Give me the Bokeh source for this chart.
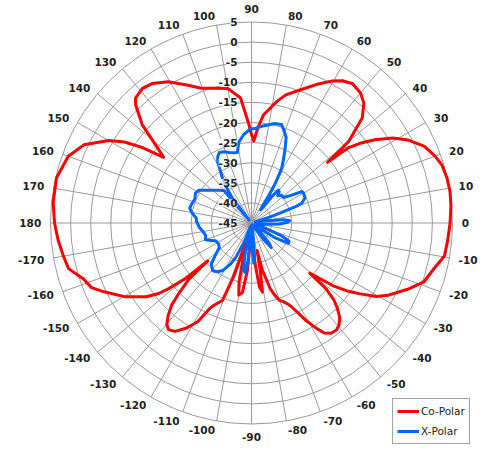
import numpy as np
from bokeh.plotting import figure
from bokeh.models import ColumnDataSource, Label, Legend, LegendItem
from bokeh.core.properties import value
from bokeh.embed import file_html
from bokeh.resources import INLINE

# ---------------- data ----------------
radial_ticks = [5, 0, -5, -10, -15, -20, -25, -30, -35, -40, -45]
angle_ticks = [0, 10, 20, 30, 40, 50, 60, 70, 80, 90, 100, 110, 120, 130, 140, 150,
               160, 170, 180, -170, -160, -150, -140, -130, -120, -110, -100, -90,
               -80, -70, -60, -50, -40, -30, -20, -10]

co_angle = [-180, -175, -170, -166, -161.7, -158, -155, -149.6, -145, -142.8, -141.5, -140,
            -139.2, -138, -136, -134.2, -132, -129.8, -127.9, -125.2, -121.7, -118.5, -116,
            -114.3, -110.5, -108.4, -106, -104, -102, -100, -97.5, -95, -92, -90, -88, -85,
            -83, -81, -79.5, -78.5, -77, -74.1, -72, -70, -68, -66, -64.4, -61, -58.4, -56.5,
            -54.2, -51.5, -49.3, -47, -44.8, -43, -41.4, -40.7, -37.6, -35.5, -33.3, -30.5,
            -27.8, -23, -18.9, -14, -9.7, -5, 0, 5, 9, 13, 17, 20, 24, 28, 31, 34, 36, 37.8,
            38.6, 39.5, 40.1, 43.5, 46.9, 50, 54, 57.4, 60.3, 65, 70, 75, 78.2, 83.6, 86, 88.4,
            90, 91.5, 95, 100, 105, 110.5, 114.7, 120.5, 125.5, 129, 132.9, 134.4, 138, 140.7,
            143.2, 145.4, 147.5, 150, 155, 160, 167, 174]
co_db = [4.0, 3.3, 2.5, 1.9, -0.9, -2.1, -4.5, -8.7, -13.0, -16.0, -19.0, -23.4,
         -30.6, -24.0, -20.0, -16.5, -14.0, -12.1, -11.4, -12.0, -14.3, -17.1, -21.5,
         -22.6, -24.5, -31.2, -40.0, -38.0, -30.0, -26.8, -27.5, -33.0, -42.0, -44.0, -42.0, -35.0,
         -29.0, -27.6, -33.0, -38.0, -33.0, -28.0, -26.0, -24.5, -23.9, -23.0, -21.9, -17.5, -14.3, -12.2,
         -11.2, -11.0, -11.6, -12.8, -14.9, -17.0, -20.3, -25.9, -19.5, -16.0, -13.0, -9.0,
         -6.5, -2.8, 0.3, 1.8, 3.7, 4.0, 4.4, 4.8, 5.0, 4.9, 4.5, 3.6, 2.0, -1.0, -4.0, -8.0, -11.0, -14.4,
         -20.8, -16.0, -13.3, -7.0, -4.1, -2.8, -2.2, -3.0, -4.3, -7.0, -9.8, -12.0, -14.1, -17.9, -21.0, -24.6,
         -23.0, -20.5, -13.8, -11.0, -10.3, -9.2, -7.3, -4.2, -2.4, -1.9, -2.6, -3.8, -8.4, -14.0,
         -17.7, -11.9, -7.5, -4.0, 1.0, 3.5, 4.8, 4.6]

xp_angle = [-180, -175, -170.4, -165, -160, -153, -147, -142.6, -138, -134.5, -129.1, -125,
            -121.2, -117, -114.6, -111, -107, -102, -99.5, -97.5, -95.5, -93, -90, -88, -86.5,
            -85, -83, -78, -65, -56, -53, -51, -48.5, -44, -37, -32, -29, -26, -23, -18, -12,
            -6, -2, 1, 3.5, 6, 9, 14, 18.5, 20.5, 21.5, 25, 29.8, 32, 35, 38.5, 42.7, 46, 48.5,
            50.7, 52.5, 54.5, 56, 57.5, 59, 61, 63, 65.6, 68, 70.3, 73, 77, 80, 84, 88, 91, 95,
            99, 101.3, 104, 107.6, 111, 114.5, 117, 119, 121, 123, 125, 127.7, 129, 130.5, 130.2,
            135, 140, 145, 148, 152, 157, 162, 166.5, 170, 175, 178]
xp_db = [-31.5, -32.0, -32.7, -33.2, -32.8, -35.1, -35.3, -34.9, -32.8, -30.7, -29.7, -30.2,
         -31.2, -33.5, -35.6, -40.0, -44.0, -37.0, -33.0, -32.6, -35.0, -43.0, -44.0, -38.0, -35.0,
         -36.0, -42.0, -44.5, -44.5, -43.0, -39.0, -37.2, -38.5, -43.0, -44.0, -38.0, -34.5, -34.6, -37.0, -43.0, -44.0,
         -42.0, -38.0, -36.0, -35.5, -37.0, -42.0, -44.0, -39.0, -33.0, -31.6, -30.3, -30.1, -30.2, -33.0, -34.8, -34.8, -35.6, -34.6,
         -34.4, -36.5, -40.5, -41.0, -37.0, -33.5, -29.6, -27.6, -24.8, -22.0, -20.8, -19.4, -19.6, -20.2, -20.8, -21.5, -21.7, -22.9,
         -24.7, -27.1, -27.0, -26.6, -26.0, -25.7, -26.5, -27.7, -30.0, -31.8, -34.0, -37.3, -44.0, -39.0, -34.4,
         -33.5, -32.3, -30.8, -29.6, -29.2, -29.7, -29.4, -29.2, -29.9, -31.2, -31.3]

# ---------------- geometry helpers ----------------
R_MIN, R_MAX = -45.0, 5.0
R_OUT = 201.0        # pixel radius of the outer ring
LABEL_R = 210.3      # anchor radius of the angle labels
GRID = "#999999"
FONT = "DejaVu Sans"


def to_r(db):
    d = np.clip(np.asarray(db, dtype=float), R_MIN, R_MAX)
    return (d - R_MIN) / (R_MAX - R_MIN) * R_OUT


def to_xy(ang, db):
    t = np.radians(np.asarray(ang, dtype=float))
    r = to_r(db)
    x = r * np.cos(t)
    y = r * np.sin(t)
    return np.append(x, x[0]), np.append(y, y[0])


p = figure(width=480, height=445, x_range=(-251, 229), y_range=(-222.5, 222.5),
           x_axis_type=None, y_axis_type=None, toolbar_location=None,
           output_backend="svg", min_border=0, outline_line_color=None,
           background_fill_color="white", border_fill_color="white")

# rings
ring_db = [t for t in radial_ticks if t > R_MIN]
ring_src = ColumnDataSource(dict(x=[0.0] * len(ring_db), y=[0.0] * len(ring_db), r=to_r(ring_db)))
p.circle(x="x", y="y", radius="r", source=ring_src, fill_color=None,
         line_color=GRID, line_width=1)

# spokes
spk = np.radians(np.arange(0, 360, 10))
spoke_src = ColumnDataSource(dict(x0=np.zeros(len(spk)), y0=np.zeros(len(spk)),
                                  x1=R_OUT * np.cos(spk), y1=R_OUT * np.sin(spk)))
p.segment(x0="x0", y0="y0", x1="x1", y1="y1", source=spoke_src, line_color=GRID, line_width=1)

# curves
cx, cy = to_xy(co_angle, co_db)
xx, xy = to_xy(xp_angle, xp_db)
red = p.line(cx, cy, line_color="#ff0000", line_width=3, line_join="round")
blue = p.line(xx, xy, line_color="#0066ff", line_width=3, line_join="round")

# angle labels
groups = {"right": dict(x=[], y=[], t=[]), "left": dict(x=[], y=[], t=[]),
          "top": dict(x=[], y=[], t=[]), "bottom": dict(x=[], y=[], t=[])}
for a in angle_ticks:
    th = np.radians(a)
    x, y = LABEL_R * np.cos(th), LABEL_R * np.sin(th)
    if a == 90:
        g = "top"
    elif a == -90:
        g = "bottom"
    elif np.cos(th) > 0:
        g = "right"
    else:
        g = "left"
    groups[g]["x"].append(x)
    groups[g]["y"].append(y)
    groups[g]["t"].append(str(a))

align = {"right": ("left", "middle"), "left": ("right", "middle"),
         "top": ("center", "bottom"), "bottom": ("center", "top")}
for g, d in groups.items():
    ta, tb = align[g]
    p.text(x="x", y="y", text="t", source=ColumnDataSource(d),
           text_align=ta, text_baseline=tb, text_font=value(FONT),
           text_font_size=value("10.5px"), text_font_style="bold", text_color="#222222")

# radial labels
for t in radial_ticks:
    p.add_layout(Label(x=-14, y=float(to_r(t)), text=str(t), text_align="right",
                       text_baseline="middle", text_font=FONT, text_font_size="10.5px",
                       text_font_style="bold", text_color="#222222",
                       background_fill_color="white", background_fill_alpha=0.7))

legend = Legend(items=[LegendItem(label="Co-Polar", renderers=[red]),
                       LegendItem(label="X-Polar", renderers=[blue])],
                location=(392, 1), padding=4, spacing=4, margin=0,
                glyph_width=22, glyph_height=16, label_height=16, label_standoff=2,
                label_text_font=FONT, label_text_font_size="10.5px", label_text_color="#222222",
                border_line_color="#444444", border_line_width=1,
                background_fill_color="white", background_fill_alpha=1.0)
p.add_layout(legend)

open("out.html", "w").write(file_html(p, INLINE))
